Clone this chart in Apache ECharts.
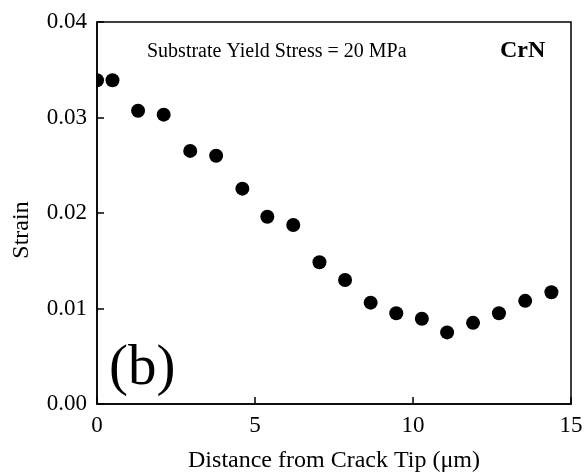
<!DOCTYPE html>
<html>
<head>
<meta charset="utf-8">
<script src="https://cdn.jsdelivr.net/npm/echarts@6/dist/echarts.min.js"></script>
<style>html,body{margin:0;padding:0;background:#fff}#c{width:584px;height:475px}</style>
</head>
<body>
<div id="c"></div>
<script>
var distance = [0, 0.49, 1.30, 2.11, 2.95, 3.77, 4.60, 5.39, 6.21, 7.04, 7.85, 8.66, 9.47, 10.28, 11.08, 11.90, 12.72, 13.55, 14.38];
var strain = [0.0339, 0.0339, 0.0307, 0.0303, 0.0265, 0.0260, 0.02255, 0.0196, 0.01875, 0.01484, 0.01298, 0.01061, 0.0095, 0.00893, 0.0075, 0.0085, 0.0095, 0.0108, 0.0117];
var annotation = "Substrate Yield Stress = 20 MPa";
var material = "CrN";
var panel = "(b)";
var yName = "Strain";
var xName = "Distance from Crack Tip (\u03bcm)";

var font = "Liberation Serif";
var chart = echarts.init(document.getElementById('c'));
chart.setOption({
  animation: false,
  backgroundColor: '#fff',
  grid: {left: 97, top: 22, right: 13, bottom: 71, show: true, borderColor: '#000', borderWidth: 1.5, backgroundColor: 'transparent', containLabel: false, outerBoundsMode: 'none'},
  xAxis: {
    type: 'value', min: 0, max: 15, interval: 5,
    name: xName, nameLocation: 'middle', nameGap: 45,
    nameTextStyle: {fontFamily: font, fontSize: 24, color: '#000'},
    axisLine: {lineStyle: {color: '#000', width: 1.5}},
    axisTick: {inside: true, length: 7, lineStyle: {color: '#000', width: 1.5}},
    axisLabel: {fontFamily: font, fontSize: 23, color: '#000', margin: 10},
    splitLine: {show: false}
  },
  yAxis: {
    type: 'value', min: 0, max: 0.04, interval: 0.01,
    axisLine: {lineStyle: {color: '#000', width: 1.5}},
    axisTick: {inside: true, length: 7, lineStyle: {color: '#000', width: 1.5}},
    axisLabel: {fontFamily: font, fontSize: 23, color: '#000', margin: 10, formatter: function(v){return v.toFixed(2);}},
    splitLine: {show: false}
  },
  graphic: [
    {type: 'rect', z: 5, shape: {x: 87, y: 60, width: 9, height: 42}, style: {fill: '#fff'}},
    {type: 'text', left: 147, top: 42, style: {text: annotation, font: '20px "Liberation Serif"', fill: '#000'}},
    {type: 'text', left: 500, top: 39, style: {text: material, font: 'bold 24px "Liberation Serif"', fill: '#000'}},
    {type: 'text', left: 109, top: 341, style: {text: panel, font: '57px "Liberation Serif"', fill: '#000'}},
    {type: 'text', x: 22, y: 230, rotation: Math.PI / 2, style: {text: yName, font: '24px "Liberation Serif"', fill: '#000', align: 'center', verticalAlign: 'middle'}}
  ],
  series: [{
    type: 'scatter', symbol: 'circle', symbolSize: 14,
    itemStyle: {color: '#000', opacity: 1},
    clip: true,
    data: distance.map(function(d, i){return [d, strain[i]];})
  }]
});
</script>
</body>
</html>
